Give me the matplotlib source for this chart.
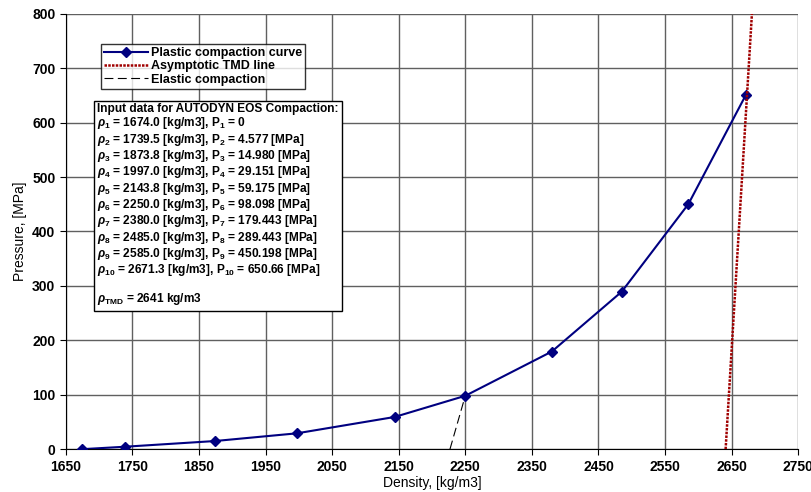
import matplotlib
matplotlib.use("Agg")
from matplotlib import pyplot as plt
import numpy as np

plt.rcParams['font.family'] = ['Liberation Sans', 'DejaVu Sans']
plt.rcParams['mathtext.fontset'] = 'custom'
plt.rcParams['mathtext.rm'] = 'Liberation Sans:bold'
plt.rcParams['mathtext.it'] = 'Liberation Sans:italic:bold'

# plastic compaction curve
density = [1674.0, 1739.5, 1873.8, 1997.0, 2143.8, 2250.0, 2380.0, 2485.0, 2585.0, 2671.3]
pressure = [0, 4.577, 14.980, 29.151, 59.175, 98.098, 179.443, 289.443, 450.198, 650.66]

# asymptotic TMD line
tmd_density = [2641, 2681]
tmd_pressure = [0, 810]

# elastic compaction line
elastic_density = [2227, 2250.0]
elastic_pressure = [0, 98.098]

x_ticks = list(range(1650, 2751, 100))
y_ticks = list(range(0, 801, 100))

fig = plt.figure(figsize=(8.12, 4.92), dpi=100)
ax = fig.add_axes([0.081, 0.087, 0.902, 0.885])

ax.plot(density, pressure, color='#000080', lw=1.5, marker='D', markersize=5,
        label='Plastic compaction curve', zorder=3)
ax.plot(tmd_density, tmd_pressure, color='#a00000', lw=1.8, linestyle=(0, (1, 0.5)),
        label='Asymptotic TMD line', zorder=4)
ax.plot(elastic_density, elastic_pressure, color='black', lw=0.8, linestyle=(0, (8, 4)),
        label='Elastic compaction', zorder=2)

ax.set_xlim(1650, 2750)
ax.set_ylim(0, 800)
ax.set_xticks(x_ticks)
ax.set_yticks(y_ticks)
ax.grid(True, color='#606060', lw=1.0)
ax.set_axisbelow(True)
for s in ['top', 'right']:
    ax.spines[s].set_visible(False)
ax.spines['left'].set_color('black')
ax.spines['bottom'].set_color('black')
ax.tick_params(direction='out', length=4, labelsize=10)
for lab in ax.get_xticklabels() + ax.get_yticklabels():
    lab.set_fontweight('bold')

ax.set_xlabel('Density, [kg/m3]', fontsize=10, labelpad=2)
ax.set_ylabel('Pressure, [MPa]', fontsize=10, labelpad=4)

leg = ax.legend(loc='upper left', bbox_to_anchor=(0.04, 0.945), fontsize=9,
                frameon=True, fancybox=False, edgecolor='black', handlelength=3.5,
                borderpad=0.25, labelspacing=0.1, handletextpad=0.2)
leg.get_frame().set_linewidth(1.0)
for t in leg.get_texts():
    t.set_fontweight('bold')

lines = ['Input data for AUTODYN EOS Compaction:']
for i, (d, p) in enumerate(zip(density, pressure)):
    if i == 0:
        ptxt = '0'
    elif i == len(density) - 1:
        ptxt = f'{p:.2f} [MPa]'
    else:
        ptxt = f'{p:.3f} [MPa]'
    lines.append(rf'$\rho_{{{i + 1}}}$ = {d:.1f} [kg/m3], P$_{{{i + 1}}}$ = {ptxt}')
lines.append('')
lines.append(r'$\rho_{\mathrm{TMD}}$ = 2641 kg/m3')

ax.text(0.043, 0.795, '\n'.join(lines), transform=ax.transAxes, fontsize=8.6,
        fontweight='bold', va='top', ha='left', linespacing=1.03,
        bbox=dict(boxstyle='square,pad=0.3', facecolor='white', edgecolor='black', lw=1.0),
        zorder=5)

fig.savefig('out.png', dpi=100)
